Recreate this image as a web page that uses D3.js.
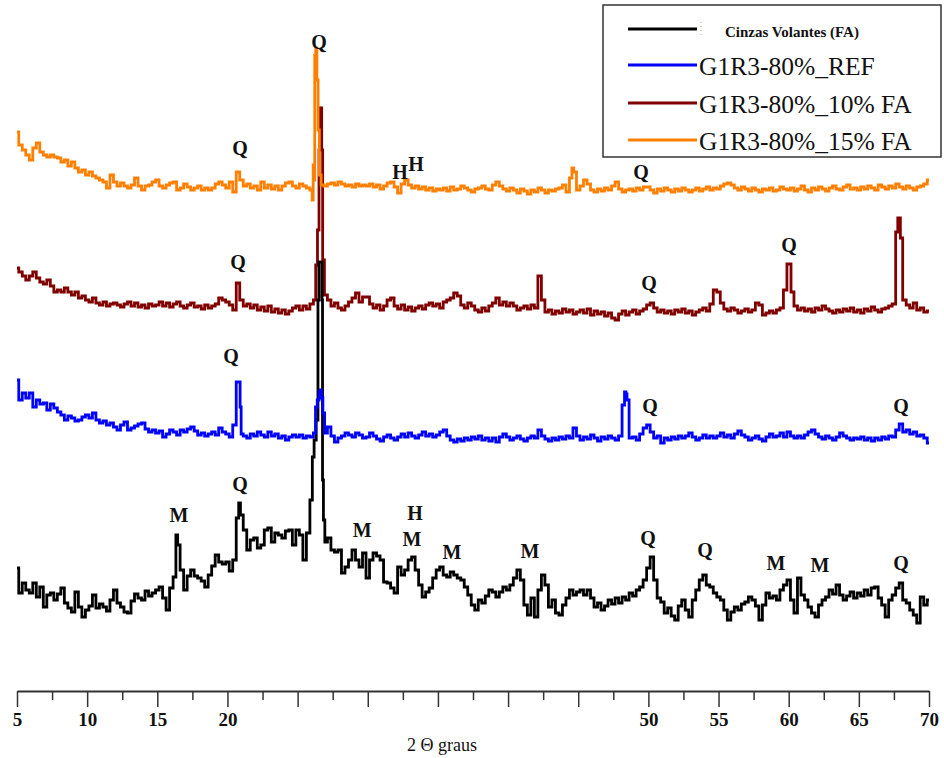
<!DOCTYPE html>
<html>
<head>
<meta charset="utf-8">
<script src="https://cdnjs.cloudflare.com/ajax/libs/d3/7.8.5/d3.min.js"></script>
<style>
  body { margin: 0; background: #fff; }
  svg { display: block; }
</style>
</head>
<body>
<div id="chart"></div>
<script>
// XRD patterns, 2theta from 5 to 70 deg, one reading every 0.25 deg (arbitrary counts, before stacking)
const twoThetaStart = 5;
const twoThetaStep = 0.25;

const cinzasVolantes = [
  132,107,117,110,107,117,103,113,93,105,107,100,106,112,97,92,88,108,93,83,
  90,94,105,92,96,93,89,100,110,97,93,88,87,99,106,102,100,109,104,107,
  110,113,102,90,112,123,155,130,110,124,130,124,122,119,113,125,134,145,138,136,
  138,129,140,182,185,170,150,160,162,152,155,170,172,158,167,165,162,169,170,155,
  170,165,140,167,200,260,400,400,158,162,150,148,150,127,133,140,150,140,133,147,
  122,140,147,144,140,118,117,112,107,133,125,130,140,143,130,115,103,108,112,122,
  130,133,125,123,128,125,122,120,113,105,95,90,100,97,104,110,108,103,108,113,
  110,115,122,130,120,95,85,102,83,110,125,115,93,100,87,85,95,102,110,105,
  108,110,105,110,102,93,97,90,94,100,96,102,97,103,100,107,104,110,113,120,
  132,143,120,102,98,87,92,84,80,94,100,90,83,100,110,120,125,115,113,107,
  103,100,90,80,88,93,90,96,98,103,100,94,80,95,107,102,104,100,110,115,
  120,100,87,122,105,100,93,87,83,95,100,103,110,106,115,105,100,104,108,102,
  107,104,110,105,112,113,102,95,83,100,105,112,117,100,97,90,85,77,103,95,
  100
];
const cinzasPeaks = [[16.4,165],[20.85,197],[26.1,243],[26.4,280],[26.53,438],[26.72,438],[26.8,220],[26.88,180]];

const ref80 = [
  150,130,137,132,137,123,130,126,127,120,126,122,118,115,110,114,112,109,110,113,
  115,112,117,110,107,109,105,107,103,100,105,108,100,102,104,106,107,101,98,100,
  97,99,93,96,100,98,95,100,98,101,103,99,95,97,94,96,98,95,102,98,
  96,93,105,148,96,94,92,96,94,98,95,93,98,94,96,92,94,90,93,95,
  93,95,92,94,93,97,130,132,97,103,94,88,92,94,97,95,93,97,95,92,
  93,97,94,91,89,93,95,92,90,93,96,93,97,94,92,95,98,94,96,93,
  95,98,100,94,90,88,91,89,92,90,93,91,94,90,92,89,92,88,93,96,
  93,90,92,94,91,89,92,94,92,100,94,91,89,92,90,93,91,94,92,102,
  94,90,93,91,95,92,89,93,91,94,92,90,94,125,130,92,93,90,96,102,
  105,98,92,94,87,92,90,93,91,94,92,94,97,93,90,92,95,92,94,92,
  94,97,93,95,92,96,99,95,93,90,92,94,91,89,93,96,93,94,97,93,
  98,94,92,94,92,95,98,100,96,93,91,94,92,90,93,97,94,92,90,92,
  91,93,90,92,89,92,90,93,91,94,93,100,106,98,100,96,98,94,95,92,
  87
];
const refPeaks = [[20.85,148],[20.95,123],[26.3,123],[26.55,138],[26.68,140],[26.85,117],[48.35,138],[48.45,136]];

const fa10 = [
  132,128,124,120,124,128,122,118,116,120,114,108,110,108,112,108,105,108,102,104,
  100,98,102,97,95,98,94,96,97,95,93,96,98,94,97,93,95,92,96,94,
  95,98,94,97,93,96,98,94,92,95,97,93,94,91,95,92,94,96,102,100,
  98,95,90,117,100,94,96,92,95,90,93,89,94,88,91,87,90,86,89,92,
  94,90,94,91,96,100,170,250,105,100,94,97,92,90,94,98,102,107,98,103,
  103,96,92,95,90,94,100,102,94,91,95,90,93,89,92,94,91,95,97,94,
  96,92,98,100,102,107,104,95,92,97,94,90,88,92,89,94,97,102,95,98,
  94,97,94,90,92,94,91,95,92,124,100,88,90,86,89,87,91,88,90,86,
  88,90,87,91,85,89,86,88,84,87,82,80,86,89,85,88,90,86,89,91,
  95,97,92,88,90,87,89,86,90,88,91,87,89,85,88,90,92,89,96,110,
  108,97,91,89,92,90,87,89,91,88,90,97,95,85,87,89,87,90,92,110,
  136,108,94,90,92,89,91,88,92,90,94,91,89,87,90,88,91,89,92,88,
  90,87,91,89,93,90,88,91,92,94,96,168,162,100,95,92,97,90,92,88,
  89
];
const fa10Peaks = [[26.33,135],[26.55,250],[26.6,292],[26.68,292],[26.82,140],[60.08,136],[67.8,182],[67.92,182]];

const fa15 = [
  148,135,130,125,120,132,137,128,125,123,125,123,122,118,120,114,118,112,108,110,
  105,108,104,102,100,98,92,105,98,94,97,94,92,95,102,94,90,94,95,98,
  100,94,92,95,97,98,90,92,96,93,90,92,94,90,92,90,92,96,98,95,
  92,98,88,108,100,94,96,92,94,90,98,92,95,91,94,90,94,97,98,94,
  92,96,94,92,90,225,150,95,94,96,97,95,98,96,94,95,93,96,94,95,
  94,96,93,95,91,94,97,98,93,87,96,100,95,92,94,91,93,90,92,89,
  91,90,92,89,93,90,91,94,92,90,88,91,92,94,91,90,95,98,94,91,
  89,92,90,87,91,89,86,90,88,92,90,87,90,89,91,92,95,88,102,108,
  90,94,100,96,90,88,91,89,92,90,94,98,91,88,90,91,89,92,90,93,
  93,90,87,91,89,92,90,88,91,89,92,90,88,90,92,89,91,93,90,92,
  91,94,96,97,95,92,90,93,91,89,92,90,88,91,90,92,89,90,93,91,
  90,92,89,91,94,90,88,92,90,93,91,89,92,94,91,90,93,95,91,92,
  90,93,91,94,92,90,95,93,91,94,92,96,93,91,94,92,90,93,94,96,
  100
];
const fa15Peaks = [[26.08,80],[26.14,115],[26.19,100],[26.33,232],[26.42,200],[26.6,105],[44.6,112]];

const seriesNames = ["Cinzas Volantes (FA)", "G1R3-80%_REF", "G1R3-80%_10% FA", "G1R3-80%_15% FA"];

// phase marks: Q quartzo, M mulita, H hematita (x in 2theta, y in counts above the trace offset)
const phaseLabels = [
  [0,"M",16.55,185],[0,"Q",20.9,216],[0,"M",29.6,170],[0,"H",33.37,187],[0,"M",33.15,161],
  [0,"M",36.0,148],[0,"M",41.56,149],[0,"Q",49.98,162],[0,"Q",54.04,150],[0,"M",59.1,137],
  [0,"M",62.23,135],[0,"Q",68.0,137],
  [1,"Q",20.25,174],[1,"Q",50.12,124],[1,"Q",68.0,124],
  [2,"Q",20.75,138],[2,"Q",50.05,117],[2,"Q",60.03,155],
  [3,"Q",26.53,238],[3,"Q",20.9,132],[3,"H",32.3,108],[3,"H",33.44,116],[3,"Q",49.48,108]
];

const majorTicks = [5,10,15,20,25,30,35,40,45,50,55,60,65,70];
const shownTickLabels = [5,10,15,20,50,55,60,65,70];

// --- drawing ---
const width = 944, height = 758;
const colors = ["#000000", "#0000ff", "#800000", "#ff8000"];
const offsets = [0, 170, 300, 420];
const drawOrder = [2, 0, 1, 3];

const svg = d3.select("#chart").append("svg")
    .attr("width", width)
    .attr("height", height)
    .style("background", "#fff");

const x = d3.scaleLinear().domain([5, 70]).range([17, 929]);
const y = d3.scaleLinear().domain([0, 700]).range([700, 0]);

function buildPoints(grid, peaks) {
    const pts = grid.map((v, i) => [twoThetaStart + i * twoThetaStep, v]);
    return pts.concat(peaks).sort((a, b) => a[0] - b[0]);
}

const allSeries = [
    buildPoints(cinzasVolantes, cinzasPeaks),
    buildPoints(ref80, refPeaks),
    buildPoints(fa10, fa10Peaks),
    buildPoints(fa15, fa15Peaks)
];

drawOrder.forEach(function(k) {
    const line = d3.line()
        .curve(d3.curveStep)
        .x(d => x(d[0]))
        .y(d => y(d[1] + offsets[k]));
    svg.append("path")
        .datum(allSeries[k])
        .attr("fill", "none")
        .attr("stroke", colors[k])
        .attr("stroke-width", 2.8)
        .attr("stroke-linejoin", "miter")
        .attr("d", line);
});

// phase letters
svg.append("g")
    .selectAll("text")
    .data(phaseLabels)
    .join("text")
    .attr("x", d => x(d[2]))
    .attr("y", d => y(d[3] + offsets[d[0]]))
    .attr("text-anchor", "middle")
    .attr("dominant-baseline", "central")
    .style("font-family", "'Liberation Serif', 'Times New Roman', serif")
    .style("font-weight", "bold")
    .style("font-size", "20px")
    .style("fill", "#111")
    .text(d => d[1]);

// x axis with major and minor ticks
const axisY = 691;
const xAxis = d3.axisBottom(x)
    .tickValues(d3.range(5, 70.01, 2.5))
    .tickSizeOuter(0)
    .tickFormat(d => shownTickLabels.includes(d) ? d : "");

const gx = svg.append("g")
    .attr("transform", "translate(0," + axisY + ")")
    .call(xAxis);

gx.select(".domain").attr("stroke", "#333").attr("stroke-width", 2);
gx.selectAll(".tick line")
    .attr("stroke", "#333")
    .attr("stroke-width", 1.5)
    .attr("y2", d => majorTicks.includes(d) ? 16 : 9);
gx.selectAll(".tick text")
    .attr("y", 22)
    .attr("dy", "0.7em")
    .style("font-family", "'Liberation Serif', 'Times New Roman', serif")
    .style("font-weight", "bold")
    .style("font-size", "19px")
    .style("fill", "#111");

svg.append("text")
    .attr("x", 442)
    .attr("y", 751)
    .attr("text-anchor", "middle")
    .style("font-family", "'Liberation Serif', 'Times New Roman', serif")
    .style("font-size", "18px")
    .style("fill", "#111")
    .text("2 \u0398 graus");

// legend
const legend = svg.append("g");
legend.append("rect")
    .attr("x", 603).attr("y", 5)
    .attr("width", 338).attr("height", 152)
    .attr("fill", "#fff")
    .attr("stroke", "#333")
    .attr("stroke-width", 1.5);

const legendRows = [29, 65, 103, 140];
seriesNames.forEach(function(name, i) {
    legend.append("line")
        .attr("x1", 628).attr("x2", 697)
        .attr("y1", legendRows[i]).attr("y2", legendRows[i])
        .attr("stroke", colors[i])
        .attr("stroke-width", 3);
    const t = legend.append("text")
        .style("font-family", "'Liberation Serif', 'Times New Roman', serif")
        .style("fill", "#111")
        .text(name);
    if (i === 0) {
        t.attr("x", 725).attr("y", 37)
            .style("font-weight", "bold")
            .style("font-size", "15px");
    } else {
        t.attr("x", 699).attr("y", legendRows[i] + 10)
            .style("font-size", "25.5px");
    }
});
legend.append("line")
    .attr("x1", 701).attr("x2", 701)
    .attr("y1", 22).attr("y2", 38)
    .attr("stroke", "#e0a070")
    .attr("stroke-width", 1)
    .attr("stroke-dasharray", "1,3");
</script>
</body>
</html>
